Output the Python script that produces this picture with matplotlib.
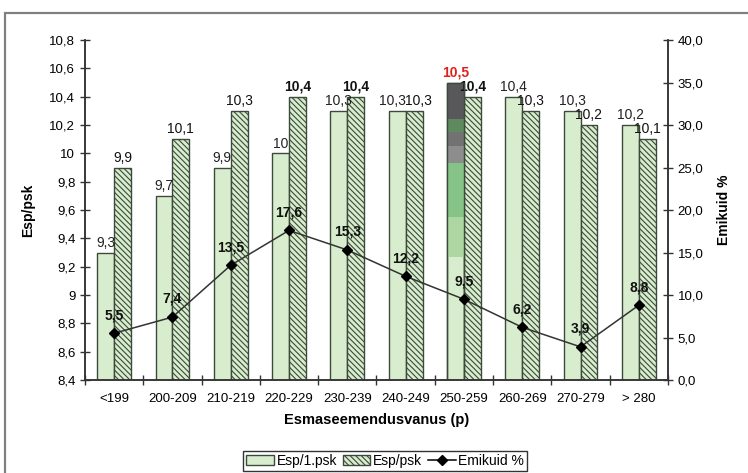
import numpy as np
import matplotlib
matplotlib.use('Agg')
import matplotlib.pyplot as plt
from matplotlib.patches import Rectangle, Patch
from matplotlib.lines import Line2D
from matplotlib.ticker import MultipleLocator, FuncFormatter, FixedLocator

plt.rcParams['font.family'] = ['Liberation Sans Narrow', 'Liberation Sans', 'DejaVu Sans']
plt.rcParams['hatch.linewidth'] = 0.8

# data
categories = ['<199', '200-209', '210-219', '220-229', '230-239',
              '240-249', '250-259', '260-269', '270-279', '> 280']
esp_first = [9.3, 9.7, 9.9, 10.0, 10.3, 10.3, 10.5, 10.4, 10.3, 10.2]
esp_all = [9.9, 10.1, 10.3, 10.4, 10.4, 10.3, 10.4, 10.3, 10.2, 10.1]
emikuid = [5.5, 7.4, 13.5, 17.6, 15.3, 12.2, 9.5, 6.2, 3.9, 8.8]
bold_all = [False, False, False, True, True, False, True, False, False, False]

# the odd striped bar in 250-259 (scan artefact), bands from top
odd_idx = 6
odd_edges = [10.5, 10.24, 10.15, 10.05, 9.93, 9.55, 9.27]
odd_colors = ['#58585a', '#5f8a5f', '#727272', '#8d8d8d', '#86c386', '#acd7a3']

edge = '#3b4a3b'
light = '#d8edcd'


def comma(v, dec=None):
    if dec is None:
        s = '{:g}'.format(round(v, 2))
    else:
        s = '{:.{}f}'.format(v, dec)
    return s.replace('.', ',')


fig = plt.figure(figsize=(7.48, 4.73), dpi=100)
fig.patches.append(Rectangle((0.007, -0.01), 1.0, 0.983, transform=fig.transFigure,
                             fill=False, edgecolor='#808080', linewidth=1.6))

ax = fig.add_axes([0.1136, 0.1966, 0.7794, 0.7188])
ax2 = ax.twinx()

x = np.arange(len(categories))
w = 0.29
ax.bar(x - w / 2, esp_first, w, color=light, edgecolor=edge, linewidth=1.0, zorder=2)
ax.bar(x + w / 2, esp_all, w, color=light, edgecolor=edge, linewidth=1.0,
       hatch='\\\\\\\\\\\\', zorder=2)

# striped bar
for top, bot, c in zip(odd_edges[:-1], odd_edges[1:], odd_colors):
    ax.bar(x[odd_idx] - w / 2, top - bot, w, bottom=bot, color=c, linewidth=0, zorder=3)
ax.bar(x[odd_idx] - w / 2, esp_first[odd_idx], w, fill=False, edgecolor=edge,
       linewidth=1.0, zorder=4)

fs = 10
for i, v in enumerate(esp_first):
    dx = -3.5 if esp_first[i] == esp_all[i] else 0
    if i == odd_idx:
        ax.annotate(comma(v), (x[i] - w / 2, v), xytext=(0, 2), textcoords='offset points',
                    ha='center', va='bottom', fontsize=fs, color='#e0201a', fontweight='bold')
    else:
        ax.annotate(comma(v), (x[i] - w / 2, v), xytext=(dx, 2), textcoords='offset points',
                    ha='center', va='bottom', fontsize=fs, color='#222222')
for i, v in enumerate(esp_all):
    dx = 3.5 if esp_first[i] == esp_all[i] else 0
    ax.annotate(comma(v), (x[i] + w / 2, v), xytext=(dx, 2), textcoords='offset points',
                ha='center', va='bottom', fontsize=fs, color='#111111',
                fontweight='bold' if bold_all[i] else 'normal')

ax2.plot(x, emikuid, color='#333333', linewidth=1.1, marker='D', markersize=5.5,
         markerfacecolor='black', markeredgecolor='black', zorder=5)
for i, v in enumerate(emikuid):
    ax2.annotate(comma(v), (x[i], v), xytext=(0, 8), textcoords='offset points',
                 ha='center', va='bottom', fontsize=fs, fontweight='bold', color='#111111')

ax.set_xlim(-0.5, len(categories) - 0.5)
ax.set_ylim(8.4, 10.8)
ax2.set_ylim(0, 40)
ax.yaxis.set_major_locator(MultipleLocator(0.2))
ax.yaxis.set_major_formatter(FuncFormatter(lambda v, p: comma(v)))
ax2.yaxis.set_major_locator(MultipleLocator(5))
ax2.yaxis.set_major_formatter(FuncFormatter(lambda v, p: comma(v, 1)))

ax.set_xticks(x)
ax.set_xticklabels(categories)
ax.xaxis.set_minor_locator(FixedLocator(np.arange(-0.5, len(categories), 1.0)))
ax.tick_params(axis='x', which='major', length=0, pad=9, labelsize=9.5)
ax.tick_params(axis='x', which='minor', direction='inout', length=7, width=1, color='#333333')
ax.tick_params(axis='y', direction='inout', length=7, width=1, color='#333333', labelsize=9.5)
ax2.tick_params(axis='y', direction='inout', length=7, width=1, color='#333333', labelsize=9.5)

for a in (ax, ax2):
    a.spines['top'].set_visible(False)
    for s in ('left', 'right', 'bottom'):
        a.spines[s].set_color('#333333')
        a.spines[s].set_linewidth(1.1)

ax.set_xlabel('Esmaseemendusvanus (p)', fontsize=10.5, fontweight='bold', labelpad=6)
ax.set_ylabel('Esp/psk', fontsize=10, fontweight='bold', labelpad=10)
ax2.set_ylabel('Emikuid %', fontsize=10, fontweight='bold', labelpad=10)

handles = [Patch(facecolor=light, edgecolor=edge, linewidth=1.0),
           Patch(facecolor=light, edgecolor=edge, linewidth=1.0, hatch='\\\\\\\\\\\\'),
           Line2D([0], [0], color='black', marker='D', markersize=5, linewidth=1.1)]
fig.legend(handles, ['Esp/1.psk', 'Esp/psk', 'Emikuid %'], loc='center',
           bbox_to_anchor=(0.515, 0.025), ncol=3, fontsize=10, frameon=True,
           fancybox=False, edgecolor='black', handlelength=2.0, handletextpad=0.2,
           columnspacing=0.4, borderpad=0.2)

plt.savefig('out.png', dpi=100)
